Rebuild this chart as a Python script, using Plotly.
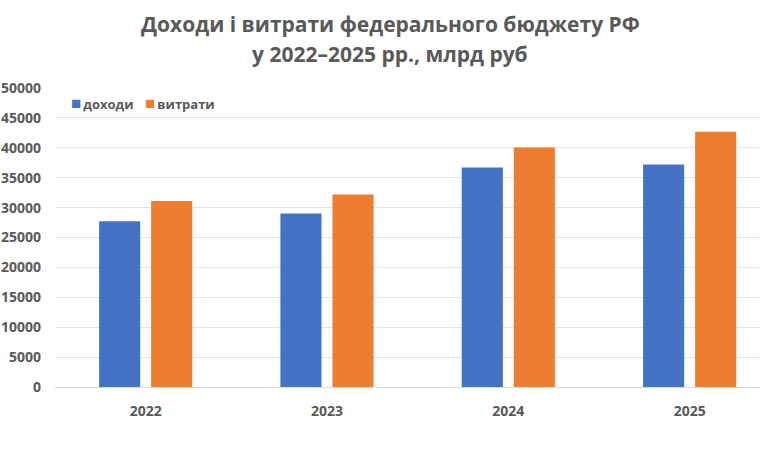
import plotly.graph_objects as go

years = ["2022", "2023", "2024", "2025"]
revenues = [27700, 29000, 36700, 37200]
expenses = [31100, 32200, 40050, 42700]
y_ticks = [0, 5000, 10000, 15000, 20000, 25000, 30000, 35000, 40000, 45000, 50000]
title_lines = ["Доходи і витрати федерального бюджету РФ", "у 2022–2025 рр., млрд руб"]
series_names = ["доходи", "витрати"]
colors = ["#4472C4", "#ED7D31"]

GRAY = "#595959"
FONT = "Open Sans"
L, R, T, B = 55, 0, 88, 68
W, H = 760, 455
PW, PH = W - L - R, H - T - B


def px_x(px):
    return (px - L) / PW


def px_y(py):
    return (H - B - py) / PH


fig = go.Figure()
for name, vals, col in zip(series_names, [revenues, expenses], colors):
    fig.add_trace(go.Bar(x=[0, 1, 2, 3], y=vals, name=name,
                         marker=dict(color=col, line=dict(width=0))))

annotations = []
for line, cy in zip(title_lines, [24, 54]):
    annotations.append(dict(
        text=line, x=px_x(390), y=px_y(cy), xref="paper", yref="paper",
        xanchor="center", yanchor="middle", showarrow=False,
        font=dict(family=FONT, size=21, color=GRAY, weight="bold"),
    ))
for name, col, lx in zip(series_names, colors, [69, 143]):
    annotations.append(dict(
        text=(f"<span style='color:{col};font-size:17px'>■</span>"
              f"<span style='font-size:8px'> </span>{name}"),
        x=px_x(lx), y=px_y(103), xref="paper", yref="paper",
        xanchor="left", yanchor="middle", showarrow=False,
        font=dict(family=FONT, size=13, color=GRAY, weight="bold"),
    ))

fig.update_layout(
    width=W, height=H,
    margin=dict(l=L, r=R, t=T, b=B),
    paper_bgcolor="white", plot_bgcolor="white",
    barmode="group", bargap=0.426, bargroupgap=0.21,
    showlegend=False,
    annotations=annotations,
)
fig.update_xaxes(
    tickmode="array", tickvals=[0, 1, 2, 3], ticktext=years,
    range=[-0.5, 3.388], showgrid=False, zeroline=False,
    showline=True, linecolor="#d9d9d9", linewidth=1, ticks="",
    tickfont=dict(family=FONT, size=14, color=GRAY, weight="bold"),
    ticklabelstandoff=11,
)
fig.update_yaxes(
    range=[0, 50000], tickmode="array", tickvals=y_ticks,
    ticktext=[str(v) for v in y_ticks],
    showgrid=True, gridcolor="#e3e3e3", gridwidth=1, zeroline=False,
    showline=False, ticks="",
    tickfont=dict(family=FONT, size=14, color=GRAY, weight="bold"),
    ticklabelstandoff=13,
)

fig.write_html("out.html")
